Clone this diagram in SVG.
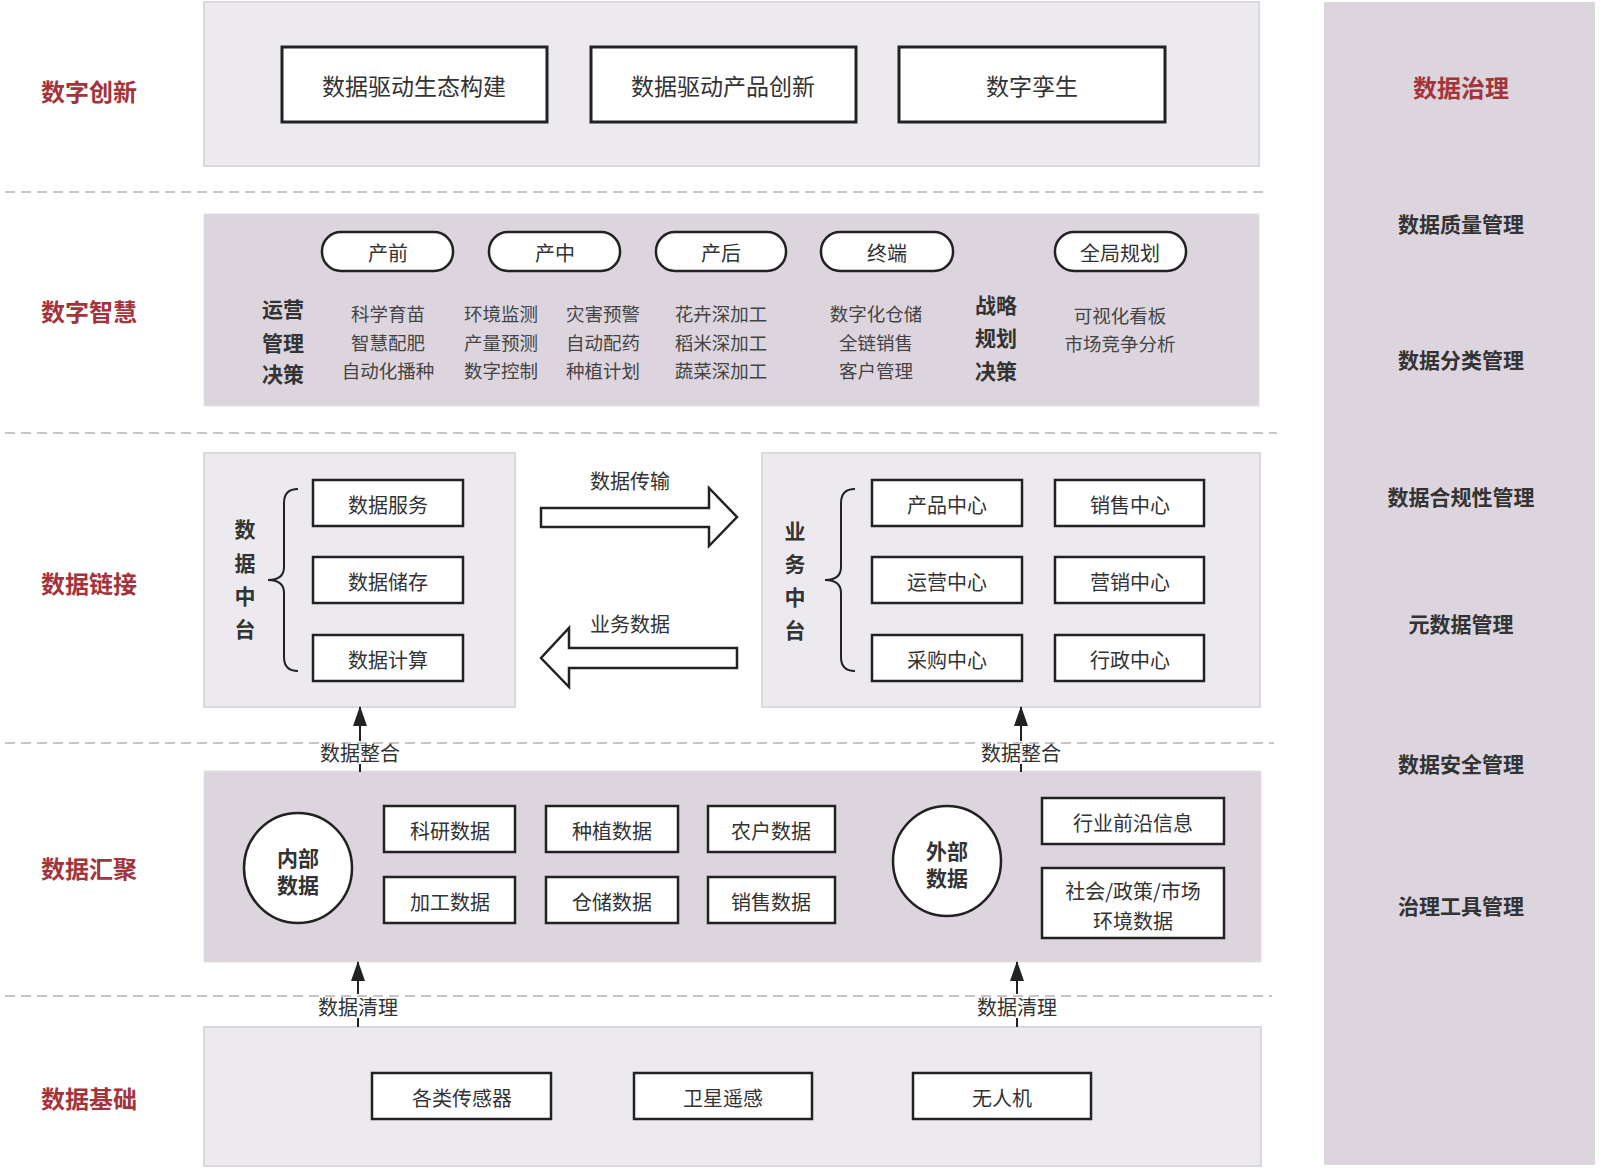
<svg xmlns="http://www.w3.org/2000/svg" width="1600" height="1172" viewBox="0 0 1600 1172">
<defs>
<style>
text{font-family:"Noto Sans CJK SC","Noto Sans",sans-serif;fill:#333;}
.sec{font-size:24px;font-weight:bold;fill:#A3343B;text-anchor:middle;dominant-baseline:central;}
.gov{font-size:21px;font-weight:bold;fill:#333;text-anchor:middle;dominant-baseline:central;}
.t{font-size:20px;text-anchor:middle;dominant-baseline:central;}
.tb{font-size:23px;text-anchor:middle;dominant-baseline:central;}
.s{font-size:18.5px;text-anchor:middle;dominant-baseline:central;fill:#444;}
.b{font-size:21px;font-weight:bold;text-anchor:middle;dominant-baseline:central;fill:#333;}
.pl{fill:#ECEAEE;stroke:#DAD8DC;stroke-width:2;}
.pd{fill:#DDD5DE;stroke:#E4DFE5;stroke-width:1;}
.box{fill:#fff;stroke:#222;stroke-width:2.5;}
.bigbox{fill:#fff;stroke:#222;stroke-width:3;}
.dash{stroke:#C6C6C6;stroke-width:2;stroke-dasharray:10 6;fill:none;}
.ln{stroke:#222;stroke-width:2;fill:none;}
</style>
<marker id="ah" viewBox="0 0 20 14" refX="19" refY="7" markerWidth="20" markerHeight="14" markerUnits="userSpaceOnUse" orient="auto">
<path d="M0,0 L20,7 L0,14 Z" fill="#222"/>
</marker>
</defs>
<rect width="1600" height="1172" fill="#fff"/>

<!-- panels -->
<g id="panels">
<rect class="pl" x="204" y="2" width="1055" height="164"/>
<rect class="pd" x="204" y="214" width="1055" height="192"/>
<rect class="pl" x="204" y="453" width="311" height="254"/>
<rect class="pl" x="762" y="453" width="498" height="254"/>
<rect class="pd" x="204" y="771" width="1057" height="191"/>
<rect class="pl" x="204" y="1027" width="1057" height="139"/>
<rect x="1324" y="2" width="271" height="1163" fill="#DCD5DD"/>
</g>

<!-- dashed separators -->
<g id="separators">
<line class="dash" x1="5" y1="192" x2="1269" y2="192"/>
<line class="dash" x1="5" y1="433" x2="1277" y2="433"/>
<line class="dash" x1="5" y1="743" x2="1274" y2="743"/>
<line class="dash" x1="5" y1="996" x2="1272" y2="996"/>
</g>

<!-- section labels -->
<g id="section-labels">
<text class="sec" x="89" y="90">数字创新</text>
<text class="sec" x="89" y="310">数字智慧</text>
<text class="sec" x="89" y="582">数据链接</text>
<text class="sec" x="89" y="867">数据汇聚</text>
<text class="sec" x="89" y="1097">数据基础</text>
</g>

<!-- governance -->
<g id="governance">
<text class="sec" x="1461" y="86">数据治理</text>
<text class="gov" x="1461" y="223">数据质量管理</text>
<text class="gov" x="1461" y="359">数据分类管理</text>
<text class="gov" x="1461" y="496">数据合规性管理</text>
<text class="gov" x="1461" y="623">元数据管理</text>
<text class="gov" x="1461" y="763">数据安全管理</text>
<text class="gov" x="1461" y="905">治理工具管理</text>
</g>

<!-- innovation -->
<g id="n-eco"><rect class="bigbox" x="282" y="47" width="265" height="75"/><text class="tb" x="414" y="85">数据驱动生态构建</text></g>
<g id="n-prod"><rect class="bigbox" x="591" y="47" width="265" height="75"/><text class="tb" x="723" y="85">数据驱动产品创新</text></g>
<g id="n-twin"><rect class="bigbox" x="899" y="47" width="266" height="75"/><text class="tb" x="1032" y="85">数字孪生</text></g>

<!-- wisdom -->
<g id="n-pre"><rect class="box" x="322" y="232" width="131" height="39" rx="19"/><text class="t" x="388" y="252">产前</text></g>
<g id="n-mid"><rect class="box" x="489" y="232" width="131" height="39" rx="19"/><text class="t" x="555" y="252">产中</text></g>
<g id="n-post"><rect class="box" x="656" y="232" width="130" height="39" rx="19"/><text class="t" x="721" y="252">产后</text></g>
<g id="n-end"><rect class="box" x="821" y="232" width="132" height="39" rx="19"/><text class="t" x="887" y="252">终端</text></g>
<g id="n-global"><rect class="box" x="1055" y="232" width="131" height="39" rx="19"/><text class="t" x="1120" y="252">全局规划</text></g>

<g id="wisdom-text">
<text class="b" x="283" y="308">运营</text>
<text class="b" x="283" y="342">管理</text>
<text class="b" x="283" y="373">决策</text>
<text class="s" x="388" y="313">科学育苗</text>
<text class="s" x="388" y="342">智慧配肥</text>
<text class="s" x="388" y="370">自动化播种</text>
<text class="s" x="501" y="313">环境监测</text>
<text class="s" x="501" y="342">产量预测</text>
<text class="s" x="501" y="370">数字控制</text>
<text class="s" x="603" y="313">灾害预警</text>
<text class="s" x="603" y="342">自动配药</text>
<text class="s" x="603" y="370">种植计划</text>
<text class="s" x="721" y="313">花卉深加工</text>
<text class="s" x="721" y="342">稻米深加工</text>
<text class="s" x="721" y="370">蔬菜深加工</text>
<text class="s" x="876" y="313">数字化仓储</text>
<text class="s" x="876" y="342">全链销售</text>
<text class="s" x="876" y="370">客户管理</text>
<text class="b" x="996" y="304">战略</text>
<text class="b" x="996" y="337">规划</text>
<text class="b" x="996" y="370">决策</text>
<text class="s" x="1120" y="315">可视化看板</text>
<text class="s" x="1120" y="343">市场竞争分析</text>
</g>

<!-- data middle platform -->
<g id="n-data-platform">
<text class="b" x="245" y="528">数</text>
<text class="b" x="245" y="562">据</text>
<text class="b" x="245" y="595">中</text>
<text class="b" x="245" y="628">台</text>
<path class="ln" d="M298,489 Q284,489 284,503 L284,567 Q284,580 268,580 Q284,580 284,593 L284,657 Q284,671 298,671"/>
</g>
<g id="n-dserv"><rect class="box" x="313" y="480" width="150" height="46"/><text class="t" x="388" y="504">数据服务</text></g>
<g id="n-dstore"><rect class="box" x="313" y="557" width="150" height="46"/><text class="t" x="388" y="581">数据储存</text></g>
<g id="n-dcalc"><rect class="box" x="313" y="635" width="150" height="46"/><text class="t" x="388" y="659">数据计算</text></g>

<!-- business middle platform -->
<g id="n-biz-platform">
<text class="b" x="795" y="530">业</text>
<text class="b" x="795" y="563">务</text>
<text class="b" x="795" y="596">中</text>
<text class="b" x="795" y="629">台</text>
<path class="ln" d="M855,489 Q841,489 841,503 L841,567 Q841,580 825,580 Q841,580 841,593 L841,657 Q841,671 855,671"/>
</g>
<g id="n-c1"><rect class="box" x="872" y="480" width="150" height="46"/><text class="t" x="947" y="504">产品中心</text></g>
<g id="n-c2"><rect class="box" x="1055" y="480" width="149" height="46"/><text class="t" x="1130" y="504">销售中心</text></g>
<g id="n-c3"><rect class="box" x="872" y="557" width="150" height="46"/><text class="t" x="947" y="581">运营中心</text></g>
<g id="n-c4"><rect class="box" x="1055" y="557" width="149" height="46"/><text class="t" x="1130" y="581">营销中心</text></g>
<g id="n-c5"><rect class="box" x="872" y="635" width="150" height="46"/><text class="t" x="947" y="659">采购中心</text></g>
<g id="n-c6"><rect class="box" x="1055" y="635" width="149" height="46"/><text class="t" x="1130" y="659">行政中心</text></g>

<!-- aggregation -->
<g id="n-internal"><ellipse cx="298" cy="868" rx="54" ry="55" fill="#fff" stroke="#222" stroke-width="2.5"/><text class="b" x="298" y="857">内部</text><text class="b" x="298" y="884">数据</text></g>
<g id="n-r1"><rect class="box" x="384" y="806" width="131" height="46"/><text class="t" x="450" y="830">科研数据</text></g>
<g id="n-r2"><rect class="box" x="546" y="806" width="132" height="46"/><text class="t" x="612" y="830">种植数据</text></g>
<g id="n-r3"><rect class="box" x="708" y="806" width="127" height="46"/><text class="t" x="771" y="830">农户数据</text></g>
<g id="n-r4"><rect class="box" x="384" y="877" width="131" height="46"/><text class="t" x="450" y="901">加工数据</text></g>
<g id="n-r5"><rect class="box" x="546" y="877" width="132" height="46"/><text class="t" x="612" y="901">仓储数据</text></g>
<g id="n-r6"><rect class="box" x="708" y="877" width="127" height="46"/><text class="t" x="771" y="901">销售数据</text></g>
<g id="n-external"><ellipse cx="947" cy="861" rx="54" ry="55" fill="#fff" stroke="#222" stroke-width="2.5"/><text class="b" x="947" y="850">外部</text><text class="b" x="947" y="877">数据</text></g>
<g id="n-e1"><rect class="box" x="1042" y="798" width="182" height="46"/><text class="t" x="1133" y="822">行业前沿信息</text></g>
<g id="n-e2"><rect class="box" x="1042" y="868" width="182" height="70"/><text class="t" x="1133" y="890">社会/政策/市场</text><text class="t" x="1133" y="920">环境数据</text></g>

<!-- foundation -->
<g id="n-sensor"><rect class="box" x="372" y="1073" width="179" height="46"/><text class="t" x="462" y="1097">各类传感器</text></g>
<g id="n-sat"><rect class="box" x="634" y="1073" width="178" height="46"/><text class="t" x="723" y="1097">卫星遥感</text></g>
<g id="n-uav"><rect class="box" x="913" y="1073" width="178" height="46"/><text class="t" x="1002" y="1097">无人机</text></g>

<!-- connectors -->
<g id="connectors">
<path d="M541,508 L709,508 L709,488 L737,517 L709,546 L709,527 L541,527 Z" fill="#fff" stroke="#222" stroke-width="2.5" stroke-linejoin="miter"/>
<text class="t" x="630" y="480">数据传输</text>
<path d="M737,648 L569,648 L569,628 L541,658 L569,687 L569,668 L737,668 Z" fill="#fff" stroke="#222" stroke-width="2.5" stroke-linejoin="miter"/>
<text class="t" x="630" y="623">业务数据</text>

<line class="ln" x1="360" y1="741" x2="360" y2="707" marker-end="url(#ah)"/>
<line class="ln" x1="360" y1="764" x2="360" y2="772"/>
<text class="t" x="360" y="752">数据整合</text>
<line class="ln" x1="1021" y1="741" x2="1021" y2="707" marker-end="url(#ah)"/>
<line class="ln" x1="1021" y1="764" x2="1021" y2="772"/>
<text class="t" x="1021" y="752">数据整合</text>

<line class="ln" x1="358" y1="994" x2="358" y2="962" marker-end="url(#ah)"/>
<line class="ln" x1="358" y1="1018" x2="358" y2="1027"/>
<text class="t" x="358" y="1006">数据清理</text>
<line class="ln" x1="1017" y1="994" x2="1017" y2="962" marker-end="url(#ah)"/>
<line class="ln" x1="1017" y1="1018" x2="1017" y2="1027"/>
<text class="t" x="1017" y="1006">数据清理</text>
</g>
</svg>
